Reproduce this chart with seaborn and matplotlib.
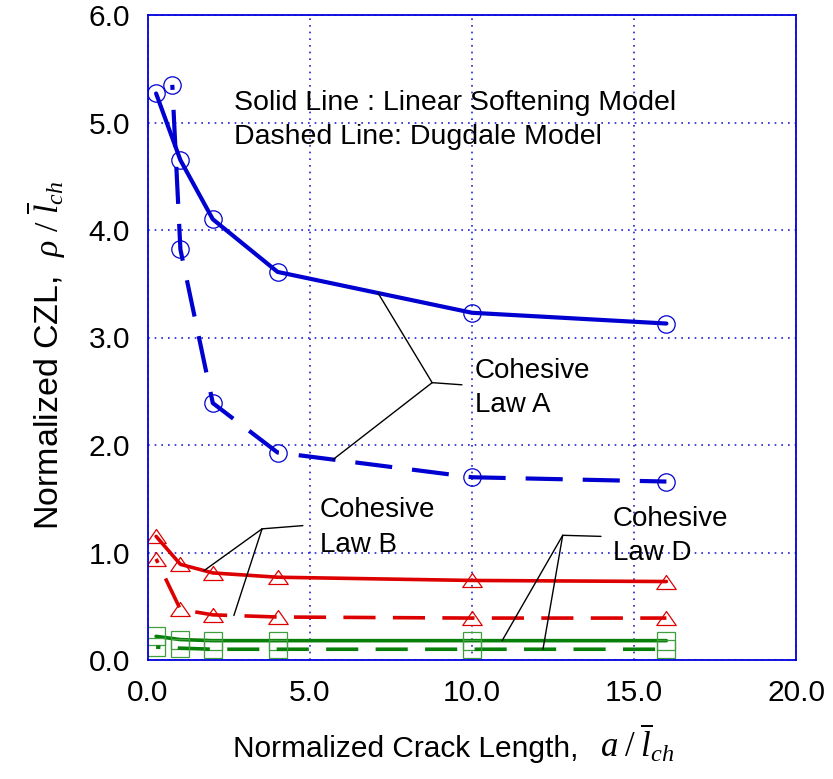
import numpy as np
import pandas as pd
import matplotlib
matplotlib.use("Agg")
import matplotlib.pyplot as plt
from matplotlib.path import Path
import seaborn as sns

# Normalized crack length a / l_ch
crack_len = [0.25, 1, 2, 4, 10, 16]
crack_len_dugdale_a = [0.75, 1, 2, 4, 10, 16]

# Normalized cohesive zone length rho / l_ch
law_a_linear = [5.27, 4.65, 4.10, 3.61, 3.23, 3.13]
law_a_dugdale = [5.35, 3.82, 2.39, 1.93, 1.70, 1.66]
law_b_linear = [1.15, 0.89, 0.81, 0.77, 0.74, 0.73]
law_b_dugdale = [0.94, 0.47, 0.42, 0.40, 0.39, 0.39]
law_d_linear = [0.22, 0.19, 0.18, 0.18, 0.18, 0.18]
law_d_dugdale = [0.12, 0.11, 0.10, 0.10, 0.10, 0.10]

x_ticks = [0, 5, 10, 15, 20]
y_ticks = [0, 1, 2, 3, 4, 5, 6]

sns.set_style("white")
plt.rcParams["font.family"] = ["Liberation Sans", "DejaVu Sans"]
plt.rcParams["text.color"] = "black"
plt.rcParams["axes.labelcolor"] = "black"
plt.rcParams["mathtext.fontset"] = "custom"
plt.rcParams["mathtext.rm"] = "Liberation Serif"
plt.rcParams["mathtext.it"] = "Liberation Serif:italic"

W, H = 833, 779
fig = plt.figure(figsize=(W / 100, H / 100), dpi=100)
ax = fig.add_axes([148 / W, 1 - 660 / H, 648 / W, 645 / H])

BLUE = "#0000d0"
RED = "#dd0000"
GREEN = "#087f08"

# wide, flat open triangle
tri = Path([(0, 0.72), (-1, -0.72), (1, -0.72), (0, 0.72)],
           [Path.MOVETO, Path.LINETO, Path.LINETO, Path.CLOSEPOLY])

dash_start = (7.7, (8.9, 4.8))

series = [
    (crack_len, law_a_linear, BLUE, "-", "o", 12.5, 3.0, BLUE),
    (crack_len_dugdale_a, law_a_dugdale, BLUE, dash_start, "o", 12.5, 3.0, BLUE),
    (crack_len, law_b_linear, RED, "-", tri, 14, 2.6, RED),
    (crack_len, law_b_dugdale, RED, dash_start, tri, 14, 2.6, RED),
    (crack_len, law_d_linear, GREEN, "-", "s", 13.5, 2.6, "#3f9f3f"),
    (crack_len, law_d_dugdale, GREEN, dash_start, "s", 13.5, 2.6, "#3f9f3f"),
]

for xs, ys, col, ls, mk, ms, lw, mec in series:
    df = pd.DataFrame({"a": xs, "rho": ys})
    sns.lineplot(data=df, x="a", y="rho", ax=ax, color=col, linestyle=ls,
                 linewidth=lw, estimator=None, sort=False, legend=False,
                 marker=mk, markersize=ms, markerfacecolor="none",
                 markeredgecolor=mec, markeredgewidth=0.9)

ax.set_xlim(0, 20)
ax.set_ylim(0, 6)
ax.set_xticks(x_ticks)
ax.set_yticks(y_ticks)
ax.set_xticklabels([f"{v:.1f}" for v in x_ticks])
ax.set_yticklabels([f"{v:.1f}" for v in y_ticks])
ax.tick_params(axis="both", labelsize=21.5, direction="in", length=3,
               color="#0000dd", width=1, labelcolor="black")
ax.tick_params(axis="x", pad=14)
ax.tick_params(axis="y", pad=13)

ax.grid(True, color="#2020d0", linestyle=(0, (1, 3)), linewidth=1.2)
for sp in ax.spines.values():
    sp.set_color("#0000dd")
    sp.set_linewidth(1.3)
    sp.set_zorder(5)

ax.set_xlabel("")
ax.set_ylabel("")

# axis titles
fig.text(233 / W, 1 - 757 / H, "Normalized Crack Length,", fontsize=21.5,
         va="baseline", ha="left")
fig.text(600 / W, 1 - 757 / H, r"$a\;/\;\overline{l}_{ch}$", fontsize=25,
         va="baseline", ha="left")
fig.text(46 / W, 1 - 355 / H,
         r"Normalized CZL,  $\rho\ /\ \overline{l}_{ch}$",
         fontsize=24.5, rotation=90, ha="center", va="center")

# model legend text
ax.text(2.65, 5.12, "Solid Line : Linear Softening Model", fontsize=20.5,
        va="baseline")
ax.text(2.65, 4.80, "Dashed Line: Dugdale Model", fontsize=20.5,
        va="baseline")


def leader(junction, stub_end, targets):
    jx, jy = junction
    ax.plot([jx, stub_end[0]], [jy, stub_end[1]], color="black", lw=1)
    for tx, txs, tys in targets:
        ty = np.interp(tx, txs, tys)
        ax.plot([jx, tx], [jy, ty], color="black", lw=1)


# Cohesive law A
ax.text(10.09, 2.62, "Cohesive", fontsize=20, va="baseline")
ax.text(10.09, 2.31, "Law A", fontsize=20, va="baseline")
leader((8.77, 2.58), (9.69, 2.56),
       [(7.1, crack_len, law_a_linear),
        (5.71, crack_len_dugdale_a, law_a_dugdale)])

# Cohesive law B
ax.text(5.31, 1.33, "Cohesive", fontsize=20, va="baseline")
ax.text(5.31, 1.00, "Law B", fontsize=20, va="baseline")
leader((3.52, 1.22), (4.78, 1.25),
       [(1.73, crack_len, law_b_linear),
        (2.65, crack_len, law_b_dugdale)])

# Cohesive law D
ax.text(14.35, 1.25, "Cohesive", fontsize=20, va="baseline")
ax.text(14.35, 0.93, "Law D", fontsize=20, va="baseline")
leader((12.8, 1.16), (13.98, 1.15),
       [(10.93, crack_len, law_d_linear),
        (12.19, crack_len, law_d_dugdale)])

fig.savefig("out.png", dpi=100)
